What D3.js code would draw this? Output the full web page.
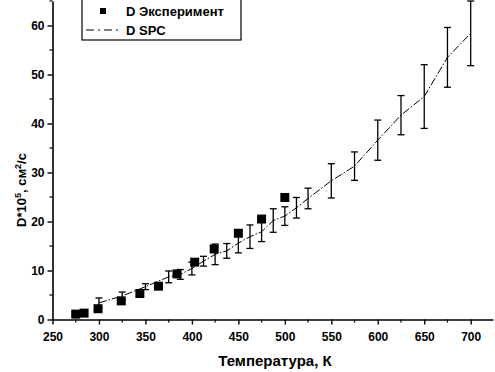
<!DOCTYPE html>
<html>
<head>
<meta charset="utf-8">
<script src="https://cdn.jsdelivr.net/npm/d3@7"></script>
<style>
	body { margin: 0; background: #fff; }
	text { font-family: Arial, "Liberation Sans", sans-serif; fill: #000; }
</style>
</head>
<body>
<div id="demo"></div>
<script>

// эксперимент
var expT = [275, 284, 299, 324, 344, 364, 384, 403, 424, 450, 475, 500];
var expD = [1.1, 1.3, 2.2, 3.8, 5.3, 6.8, 9.3, 11.7, 14.4, 17.6, 20.5, 24.9];

// расчет SPC
var spcT = [300, 325, 350, 375, 387.5, 400, 412.5, 425, 437.5, 450, 462.5, 475, 487.5, 500, 512.5, 525, 550, 575, 600, 625, 650, 675, 700];
var spcD = [3.4, 4.8, 6.7, 8.7, 9.2, 10.4, 11.9, 13.3, 14.0, 15.6, 16.9, 17.9, 20.2, 21.1, 22.8, 24.7, 28.3, 31.3, 36.6, 41.7, 45.5, 53.5, 58.4];
var spcErr = [1.0, 0.8, 0.6, 1.2, 1.0, 1.3, 1.0, 2.1, 1.5, 2.0, 2.4, 2.0, 2.4, 1.9, 2.1, 2.1, 3.5, 2.9, 4.1, 4.0, 6.5, 6.1, 6.6];

var xTicks = [250, 300, 350, 400, 450, 500, 550, 600, 650, 700];
var yTicks = [0, 10, 20, 30, 40, 50, 60];

var legendNames = ["D Эксперимент", "D SPC"];

createSvg();

function createSvg(){

	var width = 495, height = 372;

	var xScale = d3.scaleLinear()
		.domain([250, 724])
		.range([52.5, 493]);

	var yScale = d3.scaleLinear()
		.domain([0, 65])
		.range([319.5, 1]);

	var svg = d3.select("#demo").append("svg")
		.attr("width", width)
		.attr("height", height);

	// оси
	var xAxis = d3.axisBottom(xScale)
		.tickValues(xTicks)
		.tickSize(5)
		.tickSizeOuter(0)
		.tickFormat(d3.format("d"));

	var gx = svg.append("g")
		.attr("transform", "translate(0," + yScale(0) + ")")
		.call(xAxis);

	var yAxis = d3.axisLeft(yScale)
		.tickValues(yTicks)
		.tickSize(5)
		.tickSizeOuter(0)
		.tickFormat(d3.format("d"));

	var gy = svg.append("g")
		.attr("transform", "translate(" + xScale(250) + ",0)")
		.call(yAxis);

	[gx, gy].forEach(function(g){
		g.select(".domain").attr("stroke", "#000").attr("stroke-width", 1.6);
		g.selectAll(".tick line").attr("stroke", "#000").attr("stroke-width", 1.4);
		g.selectAll(".tick text")
			.style("font-size", "12px")
			.style("font-weight", "bold")
			.style("font-family", "Arial, 'Liberation Sans', sans-serif");
	});
	gx.selectAll(".tick text").attr("dy", "1.15em");

	// малые деления
	var xMinor = d3.range(275, 724, 50);
	gx.selectAll(".minor")
		.data(xMinor)
		.enter()
		.append("line")
		.attr("x1", function(d) { return xScale(d); })
		.attr("x2", function(d) { return xScale(d); })
		.attr("y1", 0)
		.attr("y2", 3)
		.attr("stroke", "#000")
		.attr("stroke-width", 1.2);

	var yMinor = d3.range(5, 66, 10);
	gy.selectAll(".minor")
		.data(yMinor)
		.enter()
		.append("line")
		.attr("y1", function(d) { return yScale(d); })
		.attr("y2", function(d) { return yScale(d); })
		.attr("x1", 0)
		.attr("x2", -3)
		.attr("stroke", "#000")
		.attr("stroke-width", 1.2);

	// подписи осей
	svg.append("text")
		.attr("x", 275)
		.attr("y", 366)
		.attr("text-anchor", "middle")
		.style("font-size", "15px")
		.style("font-weight", "bold")
		.text("Температура, К");

	var ylab = svg.append("text")
		.attr("transform", "translate(26,190) rotate(-90)")
		.attr("text-anchor", "middle")
		.style("font-size", "13px")
		.style("font-weight", "bold");
	ylab.append("tspan").text("D*10");
	ylab.append("tspan").attr("baseline-shift", "super").style("font-size", "9px").text("5");
	ylab.append("tspan").text(", см");
	ylab.append("tspan").attr("baseline-shift", "super").style("font-size", "9px").text("2");
	ylab.append("tspan").text("/с");

	// данные SPC
	var spcData = spcT.map(function(t, i) {
		return {t: t, d: spcD[i], e: spcErr[i]};
	});

	var line = d3.line()
		.x(function(d) { return xScale(d.t); })
		.y(function(d) { return yScale(d.d); });

	svg.append("path")
		.attr("d", line(spcData))
		.attr("fill", "none")
		.attr("stroke", "#000")
		.attr("stroke-width", 1)
		.attr("stroke-dasharray", "8,2,1.5,2");

	var bars = svg.selectAll(".err")
		.data(spcData)
		.enter()
		.append("g");

	bars.append("line")
		.attr("x1", function(d) { return xScale(d.t); })
		.attr("x2", function(d) { return xScale(d.t); })
		.attr("y1", function(d) { return yScale(d.d + d.e); })
		.attr("y2", function(d) { return yScale(d.d - d.e); })
		.attr("stroke", "#000")
		.attr("stroke-width", 1.3);

	[1, -1].forEach(function(s){
		bars.append("line")
			.attr("x1", function(d) { return xScale(d.t) - 3.5; })
			.attr("x2", function(d) { return xScale(d.t) + 3.5; })
			.attr("y1", function(d) { return yScale(d.d + s * d.e); })
			.attr("y2", function(d) { return yScale(d.d + s * d.e); })
			.attr("stroke", "#000")
			.attr("stroke-width", 1.3);
	});

	// эксперимент - квадраты
	svg.selectAll(".exp")
		.data(expT)
		.enter()
		.append("rect")
		.attr("x", function(d) { return xScale(d) - 4.5; })
		.attr("y", function(d, i) { return yScale(expD[i]) - 4.5; })
		.attr("width", 9)
		.attr("height", 9)
		.attr("fill", "#000");

	// легенда
	var lg = svg.append("g");
	lg.append("rect")
		.attr("x", 82)
		.attr("y", -2)
		.attr("width", 159)
		.attr("height", 42)
		.attr("fill", "#fff")
		.attr("stroke", "#000")
		.attr("stroke-width", 1.2);

	lg.append("rect")
		.attr("x", 100)
		.attr("y", 8)
		.attr("width", 6)
		.attr("height", 6)
		.attr("fill", "#000");

	lg.append("line")
		.attr("x1", 86).attr("x2", 120)
		.attr("y1", 30).attr("y2", 30)
		.attr("stroke", "#000")
		.attr("stroke-width", 1)
		.attr("stroke-dasharray", "8,4,2,4");

	lg.selectAll(".lt")
		.data(legendNames)
		.enter()
		.append("text")
		.attr("x", 126)
		.attr("y", function(d, i) { return 16 + i * 19; })
		.style("font-size", "13px")
		.style("font-weight", "bold")
		.text(function(d) { return d; });
}
</script>
</body>
</html>
